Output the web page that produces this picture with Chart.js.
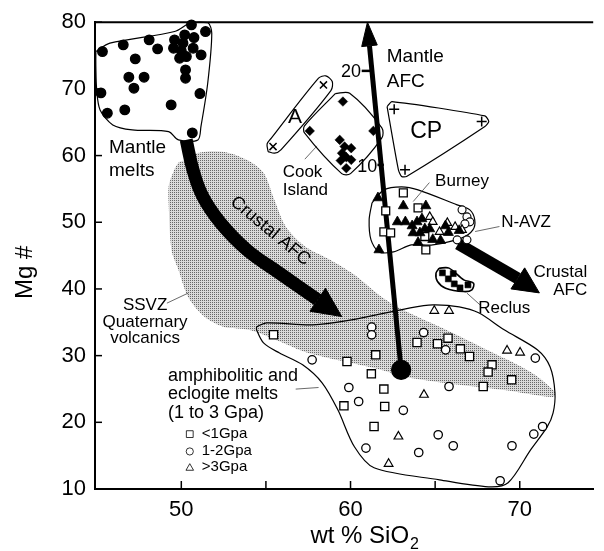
<!DOCTYPE html>
<html>
<head>
<meta charset="utf-8">
<script src="https://cdn.jsdelivr.net/npm/chart.js@4/dist/chart.umd.min.js"></script>
<style>
  html, body { margin: 0; padding: 0; background: #fff; }
  #wrap { width: 604px; height: 551px; position: relative; }
</style>
</head>
<body>
<div id="wrap"><canvas id="c"></canvas></div>
<script>
const FONT = "'Liberation Sans', Arial, Helvetica, sans-serif";

// ---- axis ticks ----
const xTicks = [50, 60, 70];
const xMinorTicks = [55, 65];
const yTicks = [10, 20, 30, 40, 50, 60, 70, 80];

// ---- sample groups: [SiO2 wt%, Mg#] ----
const mantleMelts = [[45.34,75.6],[46.57,76.6],[48.1,77.35],[48.6,76.0],[47.28,74.5],[46.9,71.75],[47.8,71.75],[47.2,70.1],[45.25,69.4],[45.63,66.35],[46.66,66.85],[49.4,67.6],[50.65,63.4],[51.1,69.3],[50.25,72.85],[50.25,71.6],[50.6,79.6],[51.43,78.6],[49.6,77.35],[50.2,78.1],[50.75,77.7],[50.1,76.85],[49.54,76.1],[50.7,76.1],[50.0,75.7],[51.17,75.1],[49.9,74.6],[50.3,74.85]];
const cookIsland = [[59.55,68.1],[57.59,63.7],[61.35,63.7],[59.36,62.35],[59.65,61.35],[60.04,61.11],[59.5,60.36],[59.75,59.76],[60.04,59.36],[59.42,59.25],[59.75,58.11]];
const groupA = [[55.42,61.35],[58.4,70.6]];
const groupCP = [[62.58,66.96],[67.75,65.1],[63.22,57.86]];
const navzFilledTri = [[61.62,53.66],[63.12,52.46],[64.45,52.46],[62.77,50.06],[63.24,50.06],[63.64,49.46],[63.93,50.06],[64.22,50.51],[63.7,48.41],[64.1,48.41],[64.39,49.01],[64.68,49.01],[63.99,46.96],[64.86,47.41],[65.32,47.26],[65.78,48.46],[66.42,48.76],[61.68,45.86],[65.61,49.46]];
const navzOpenSq = [[63.12,54.41],[63.99,52.16],[62.08,51.71],[61.97,48.56],[62.37,48.41],[64.45,45.86],[64.39,47.86]];
const navzOpenTri = [[64.68,50.81],[64.86,50.06],[65.26,48.56],[65.72,49.91],[66.18,49.31],[66.59,48.86]];
const navzOpenCirc = [[66.59,51.86],[66.88,50.81],[67.05,50.06],[66.76,49.76],[66.3,47.36],[66.88,47.36]];
const reclus = [[65.43,42.41],[65.78,41.51],[66.13,40.76],[66.47,40.16],[66.94,40.61],[66.07,42.3]];
const meltSqLow = [[55.45,33.12],[59.79,29.12],[61.49,30.12],[61.23,27.27],[61.97,24.98],[59.61,22.47],[62.02,22.37],[61.39,19.37],[63.93,31.96],[65.14,31.77],[65.76,32.62],[66.49,31.02],[67.03,29.87],[68.36,28.62],[68.13,27.53],[67.84,25.37],[69.52,26.37]];
const meltCircMid = [[61.25,34.27],[61.25,33.12],[57.73,29.37],[59.9,25.22],[60.48,23.12],[63.12,21.8],[60.91,16.13],[64.32,33.46],[65.62,30.87],[65.82,25.37],[70.92,29.63],[71.35,19.37],[70.83,18.23],[69.54,16.48],[65.18,18.13],[66.07,16.48],[64.03,15.47],[68.84,11.23]];
const meltTriHigh = [[64.95,36.72],[65.82,36.72],[69.25,30.76],[70.02,30.46],[64.34,24.13],[62.83,17.87],[62.25,13.78]];

// ---- field outlines ----
const mantleField = [[44.95,75.6],[45.78,76.85],[49.6,78.6],[50.58,79.95],[51.56,79.95],[51.8,78.35],[51.56,70.85],[51.16,64.35],[50.98,62.35],[49.83,62.35],[49.25,63.6],[47.1,63.85],[45.95,64.6],[45.2,66.85],[45.0,69.85],[44.95,73.35],[44.95,75.6]];
const fieldA = [[55.13,60.6],[55.07,61.75],[55.32,62.61],[58.11,71.6],[58.54,71.95],[58.92,71.1],[58.84,69.75],[55.9,60.9],[55.51,60.36],[55.13,60.6]];
const cookField = [[59.1,69.3],[59.95,69.35],[61.85,64.15],[61.85,62.65],[60.0,57.3],[59.48,57.3],[57.28,63.4],[57.28,64.45],[59.1,69.3]];
const cpField = [[62.16,67.35],[62.45,68.1],[67.94,65.95],[68.17,65.1],[67.94,64.35],[63.31,56.85],[63.02,56.85],[62.83,57.85],[62.16,67.35]];
const navzField = [[61.27,52.91],[61.97,54.86],[63.01,55.31],[63.99,54.86],[66.3,52.61],[67.05,51.86],[67.34,50.36],[67.23,48.86],[66.59,47.66],[64.86,46.61],[63.58,46.61],[62.54,45.56],[61.68,45.56],[61.21,47.36],[61.1,50.36],[61.27,52.91]];
const reclusField = [[65.24,43.12],[65.82,43.12],[66.69,41.36],[67.27,40.87],[67.17,39.87],[66.69,39.61],[65.62,40.12],[65.14,41.11],[65.05,42.37],[65.24,43.12]];
const meltField = [[54.45,34.32],[55.03,34.92],[57.75,34.62],[60.06,35.37],[63.53,37.17],[64.86,37.62],[66.42,37.32],[67.57,36.42],[69.08,33.87],[71.04,30.87],[71.79,28.32],[72.08,24.42],[71.97,21.42],[71.62,19.32],[70.64,15.87],[69.31,10.93],[68.15,10.33],[65.26,11.38],[61.39,13.18],[60.23,16.33],[59.25,21.87],[58.32,25.92],[57.17,28.62],[55.78,30.42],[54.86,31.92],[54.45,33.87],[54.45,34.32]];
const ssvzField = [[50.4,59.36],[50.98,60.4],[52.54,60.55],[53.87,59.36],[54.86,57.41],[55.43,53.81],[56.18,49.31],[57.34,46.31],[58.79,44.36],[60.23,42.11],[61.68,39.11],[63.12,36.86],[65.43,34.16],[68.32,30.56],[70.64,27.56],[72.08,24.56],[71.97,23.81],[69.08,24.86],[65.61,25.91],[63.29,26.81],[61.39,28.16],[57.51,30.41],[55.61,32.36],[54.05,33.86],[52.54,34.31],[51.39,35.81],[50.4,38.81],[49.83,42.86],[49.42,45.86],[49.25,52.91],[49.25,55.31],[49.42,56.81],[49.83,58.91],[50.4,59.36]];

// ---- AFC trends ----
const crustalTrend = [[50.29,62.35],[50.69,57.85],[51.27,53.85],[52.33,49.86],[53.87,45.86],[55.8,42.37],[58.06,38.38]];
const crustalHead = [[59.48,35.86],[57.6,36.66],[58.52,40.1],[59.48,35.86]];
const mantleTrend = [[62.99,27.87],[61.12,76.46]];
const mantleHead = [[61.0,80.0],[61.58,76.58],[60.66,76.34],[61.0,80.0]];
const mantleStart = [[62.99,27.87]];
const tick20 = [[60.66,72.7],[61.21,72.7]];
const tick10 = [[61.59,58.6],[61.97,58.6]];
const navzTrend = [[66.36,46.76],[69.88,41.59]];
const navzHead = [[71.16,39.41],[69.48,40.01],[70.29,43.16],[71.16,39.41]];

// stipple used for the SSVZ field
function stipple() {
  const c = document.createElement('canvas');
  c.width = 2; c.height = 2;
  const g = c.getContext('2d');
  g.fillStyle = '#dadada'; g.fillRect(0, 0, 2, 2);
  g.fillStyle = '#686868'; g.fillRect(0, 0, 1, 1);
  return g.createPattern(c, 'repeat');
}

const pts = a => a.map(([x, y]) => ({ x, y }));
function outline(data, w = 1.2, tension = 0.3) {
  return { data: pts(data), borderColor: '#000', borderWidth: w, tension, pointRadius: 0, fill: false, order: 5, clip: false };
}
function markers(data, style, r, bg, bw = 1.3) {
  return { data: pts(data), showLine: false, pointStyle: style, pointRadius: r, pointBackgroundColor: bg,
           pointBorderColor: '#000', pointBorderWidth: bw, order: 1, clip: false };
}
function solid(data) {
  return { data: pts(data), borderColor: '#000', borderWidth: 1, backgroundColor: '#000', fill: 'shape',
           tension: 0, pointRadius: 0, order: 3, clip: false };
}
function stroke(data, w, tension = 0) {
  return { data: pts(data), borderColor: '#000', borderWidth: w, borderCapStyle: 'butt', tension,
           pointRadius: 0, fill: false, order: 3, clip: false };
}

const datasets = [
  { data: pts(ssvzField), borderWidth: 0, borderColor: 'rgba(0,0,0,0)', backgroundColor: stipple(), fill: 'shape',
    tension: 0.3, pointRadius: 0, order: 10, clip: false },
  outline(mantleField), outline(fieldA), outline(cookField), outline(cpField, 1.2, 0.2),
  outline(navzField), outline(reclusField, 1.6), outline(meltField),
  stroke(crustalTrend, 13, 0.4), solid(crustalHead),
  stroke(mantleTrend, 5), solid(mantleHead), stroke(tick20, 2.5), stroke(tick10, 2.5),
  stroke(navzTrend, 12), solid(navzHead),
  markers(mantleMelts, 'circle', 4.8, '#000'),
  markers(cookIsland, 'rectRot', 4.8, '#000', 0.5),
  markers(groupA, 'crossRot', 5, '#000', 1.5),
  markers(groupCP, 'cross', 5, '#000', 1.5),
  markers(navzFilledTri, 'triangle', 5.8, '#000', 0.8),
  markers(navzOpenSq, 'rect', 5.6, '#fff'),
  markers(navzOpenTri, 'triangle', 5, '#fff', 1.1),
  markers(navzOpenCirc, 'circle', 4, '#fff', 1.1),
  markers(reclus, 'rect', 4.2, '#000', 0.6),
  markers(meltSqLow, 'rect', 5.8, '#fff'),
  markers(meltCircMid, 'circle', 4.2, '#fff'),
  markers(meltTriHigh, 'triangle', 5, '#fff', 1.2),
  Object.assign(markers(mantleStart, 'circle', 9.5, '#000'), { order: 0 })
];

// text placed in data space: baseline 'a' = alphabetic, 'm' = middle
const labels = [
  { t: 'Mantle', x: 45.73, y: 60.4, s: 19, a: 'left', b: 'a' },
  { t: 'melts', x: 45.73, y: 56.96, s: 19, a: 'left', b: 'a' },
  { t: 'SSVZ', x: 47.86, y: 36.87, s: 17, a: 'center', b: 'a' },
  { t: 'Quaternary', x: 47.86, y: 34.32, s: 17, a: 'center', b: 'a' },
  { t: 'volcanics', x: 47.86, y: 31.92, s: 17, a: 'center', b: 'a' },
  { t: 'amphibolitic and', x: 49.21, y: 26.27, s: 18, a: 'left', b: 'a' },
  { t: 'eclogite melts', x: 49.21, y: 23.43, s: 18, a: 'left', b: 'a' },
  { t: '(1 to 3 Gpa)', x: 49.21, y: 20.7, s: 18, a: 'left', b: 'a' },
  { t: '<1Gpa', x: 51.21, y: 17.6, s: 15, a: 'left', b: 'a' },
  { t: '1-2Gpa', x: 51.21, y: 15.13, s: 15, a: 'left', b: 'a' },
  { t: '>3Gpa', x: 51.21, y: 12.73, s: 15, a: 'left', b: 'a' },
  { t: 'A', x: 56.72, y: 65.7, s: 21, a: 'center', b: 'm' },
  { t: 'Cook', x: 55.99, y: 56.81, s: 17, a: 'left', b: 'a' },
  { t: 'Island', x: 55.99, y: 54.11, s: 17, a: 'left', b: 'a' },
  { t: 'Mantle', x: 62.14, y: 74.0, s: 19, a: 'left', b: 'a' },
  { t: 'AFC', x: 62.14, y: 70.35, s: 19, a: 'left', b: 'a' },
  { t: '20', x: 60.62, y: 72.6, s: 18, a: 'right', b: 'm' },
  { t: '10', x: 61.58, y: 58.35, s: 18, a: 'right', b: 'm' },
  { t: 'CP', x: 64.47, y: 63.6, s: 23, a: 'center', b: 'm' },
  { t: 'Burney', x: 66.59, y: 56.07, s: 17, a: 'center', b: 'm' },
  { t: 'N-AVZ', x: 68.9, y: 49.98, s: 17, a: 'left', b: 'm' },
  { t: 'Crustal', x: 73.99, y: 42.49, s: 17, a: 'right', b: 'm' },
  { t: 'AFC', x: 73.99, y: 39.75, s: 17, a: 'right', b: 'm' },
  { t: 'Reclus', x: 69.08, y: 37.16, s: 17, a: 'center', b: 'm' }
];
const leaders = [
  [[49.15,37.87],[50.4,39.37]],
  [[57.3,59.46],[58.02,61.45]],
  [[64.66,55.95],[63.7,53.1]],
  [[68.8,49.36],[67.36,48.61]],
  [[66.88,39.37],[67.65,37.62]],
  [[56.76,24.98],[58.11,25.22]]
];
const keySymbols = [
  { style: 'rect', r: 4.8, x: 50.5, y: 18.23 },
  { style: 'circle', r: 3.6, x: 50.5, y: 15.63 },
  { style: 'triangle', r: 4.4, x: 50.5, y: 13.14 }
];

const decor = {
  id: 'decor',
  afterDatasetsDraw(chart) {
    const { ctx, chartArea: a, scales: { x, y } } = chart;
    const px = v => x.getPixelForValue(v);
    const py = v => y.getPixelForValue(v);
    ctx.save();
    ctx.strokeStyle = '#000';
    // top frame line
    ctx.lineWidth = 2;
    ctx.beginPath(); ctx.moveTo(a.left - 1, a.top); ctx.lineTo(a.right, a.top); ctx.stroke();
    // inward tick marks
    ctx.lineWidth = 1.5;
    [...xTicks, ...xMinorTicks].forEach(v => {
      ctx.beginPath(); ctx.moveTo(px(v), a.bottom); ctx.lineTo(px(v), a.bottom - 8); ctx.stroke();
    });
    yTicks.forEach(v => {
      ctx.beginPath(); ctx.moveTo(a.left, py(v)); ctx.lineTo(a.left + 7, py(v)); ctx.stroke();
    });
    // leader lines
    ctx.lineWidth = 0.8; ctx.strokeStyle = '#444';
    leaders.forEach(([p, q]) => {
      ctx.beginPath(); ctx.moveTo(px(p[0]), py(p[1])); ctx.lineTo(px(q[0]), py(q[1])); ctx.stroke();
    });
    // key symbols
    ctx.strokeStyle = '#000'; ctx.fillStyle = '#fff';
    keySymbols.forEach(k => {
      Chart.helpers.drawPoint(ctx, { pointStyle: k.style, radius: k.r, borderWidth: 1.1, rotation: 0 }, px(k.x), py(k.y));
    });
    // labels
    ctx.fillStyle = '#000';
    labels.forEach(l => {
      ctx.font = l.s + 'px ' + FONT;
      ctx.textAlign = l.a;
      ctx.textBaseline = l.b === 'm' ? 'middle' : 'alphabetic';
      ctx.fillText(l.t, px(l.x), py(l.y));
    });
    // label running along the crustal AFC trend
    ctx.save();
    ctx.translate(px(55.26), py(48.7));
    ctx.rotate(39.7 * Math.PI / 180);
    ctx.font = '18px ' + FONT; ctx.textAlign = 'center'; ctx.textBaseline = 'middle';
    ctx.fillText('Crustal AFC', 0, 0);
    ctx.restore();
    // axis titles
    ctx.textBaseline = 'alphabetic'; ctx.textAlign = 'left';
    ctx.font = '24px ' + FONT;
    const tx = px(57.63), ty = a.bottom + 54;
    ctx.fillText('wt % SiO', tx, ty);
    const w = ctx.measureText('wt % SiO').width;
    ctx.font = '16px ' + FONT;
    ctx.fillText('2', tx + w + 1, ty + 6);
    ctx.save();
    ctx.translate(a.left - 70, py(42.5));
    ctx.rotate(-Math.PI / 2);
    ctx.font = '24px ' + FONT; ctx.textAlign = 'center'; ctx.textBaseline = 'middle';
    ctx.fillText('Mg #', 0, 0);
    ctx.restore();
    ctx.restore();
  }
};

new Chart(document.getElementById('c'), {
  type: 'line',
  data: { datasets },
  options: {
    responsive: true,
    maintainAspectRatio: false,
    animation: false,
    events: [],
    layout: { padding: { top: 22, right: 0, left: 0, bottom: 0 } },
    plugins: { legend: { display: false }, tooltip: { enabled: false } },
    scales: {
      x: {
        type: 'linear', min: 44.9, max: 74.34,
        afterBuildTicks: s => { s.ticks = xTicks.map(v => ({ value: v })); },
        afterFit: s => { s.height = 62; },
        grid: { display: false, drawTicks: false },
        border: { display: true, color: '#000', width: 2 },
        ticks: { color: '#000', font: { family: FONT, size: 22 }, padding: 8, maxRotation: 0 }
      },
      y: {
        type: 'linear', min: 10, max: 80,
        afterBuildTicks: s => { s.ticks = yTicks.map(v => ({ value: v })); },
        afterFit: s => { s.width = 95; },
        grid: { display: false, drawTicks: false },
        border: { display: true, color: '#000', width: 2 },
        ticks: { color: '#000', font: { family: FONT, size: 22 }, padding: 9 }
      }
    }
  },
  plugins: [decor]
});
</script>
</body>
</html>
